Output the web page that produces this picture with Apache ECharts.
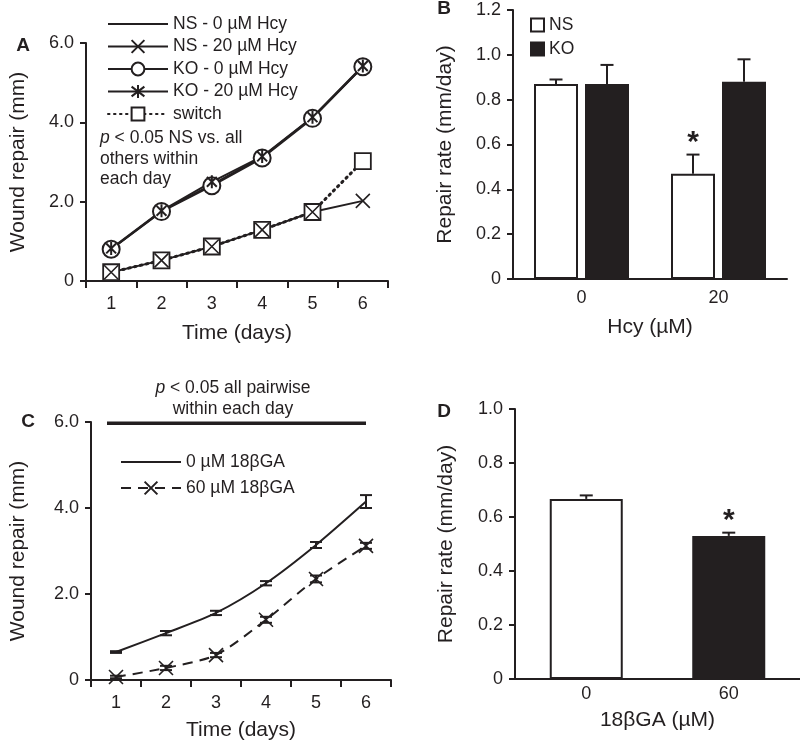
<!DOCTYPE html>
<html><head><meta charset="utf-8">
<script src="https://cdn.jsdelivr.net/npm/echarts@6/dist/echarts.min.js"></script>
<style>html,body{margin:0;padding:0;background:#fff}#c{width:800px;height:748px}</style>
</head><body><div id="c"></div>
<script>
// ---------- Panel A: wound repair vs time (Hcy) ----------
const days = ['1', '2', '3', '4', '5', '6'];
const nsHcy0  = [0.80, 1.76, 2.43, 3.12, 4.12, 5.40];
const nsHcy20 = [0.22, 0.52, 0.87, 1.29, 1.74, 2.02];
const koHcy0  = [0.80, 1.75, 2.40, 3.10, 4.10, 5.40];
const koHcy20 = [0.82, 1.77, 2.50, 3.14, 4.13, 5.42];
const switchHcy = [0.22, 0.52, 0.87, 1.29, 1.74, 3.02];
const yTicksA = [0, 2, 4, 6];

// ---------- Panel B: repair rate vs Hcy ----------
const hcyDoses = ['0', '20'];
const rateNS = [0.87, 0.47];
const rateNSErr = [0.02, 0.085];
const rateNSSig = ['', '*'];
const rateKO = [0.87, 0.88];
const rateKOErr = [0.085, 0.10];
const rateKOSig = ['', ''];
const yTicksB = [0, 0.2, 0.4, 0.6, 0.8, 1.0, 1.2];

// ---------- Panel C: wound repair vs time (18bGA) ----------
const ga0 = [0.65, 1.09, 1.56, 2.25, 3.14, 4.15];
const ga0Err = [0.02, 0.05, 0.05, 0.05, 0.07, 0.15];
const ga60 = [0.07, 0.28, 0.58, 1.40, 2.35, 3.12];
const ga60Err = [0.03, 0.05, 0.05, 0.07, 0.08, 0.07];
const pairwiseLevel = 5.97;
const pairwiseSpan = [0, 5];
const yTicksC = [0, 2, 4, 6];

// ---------- Panel D: repair rate vs 18bGA ----------
const gaDoses = ['0', '60'];
const gaRate = [0.667, 0.530];
const gaRateErr = [0.013, 0.012];
const gaRateSig = ['', '*'];
const yTicksD = [0, 0.2, 0.4, 0.6, 0.8, 1.0];

const INK = '#231f20';
const FONT = 'Liberation Sans, Arial, Helvetica, sans-serif';
const TICK = 18;
const TITLE = 21;
const LEG = 17.5;

const chart = echarts.init(document.getElementById('c'), null, {renderer: 'canvas'});

const fmt1 = v => (v === 0 ? '0' : v.toFixed(1));

function yAxis(gi, ticks, name, gap, fmt) {
  return {
    type: 'value', gridIndex: gi, min: ticks[0], max: ticks[ticks.length - 1],
    interval: ticks[1] - ticks[0],
    name: name, nameLocation: 'middle', nameGap: gap,
    nameTextStyle: {fontSize: TITLE, color: INK, fontFamily: FONT},
    axisLine: {show: true, lineStyle: {color: INK, width: 2}},
    axisTick: {show: true, length: 6, lineStyle: {color: INK, width: 2}},
    axisLabel: {fontSize: TICK, color: INK, fontFamily: FONT, margin: 12, formatter: fmt},
    splitLine: {show: false}
  };
}
function xAxis(gi, cats, name, gap, ticks, margin) {
  return {
    type: 'category', gridIndex: gi, data: cats, boundaryGap: true,
    name: name, nameLocation: 'middle', nameGap: gap,
    nameTextStyle: {fontSize: TITLE, color: INK, fontFamily: FONT},
    axisLine: {show: true, onZero: false, lineStyle: {color: INK, width: 2}},
    axisTick: {show: ticks, length: 7, alignWithLabel: false, lineStyle: {color: INK, width: 2}},
    axisLabel: {fontSize: TICK, color: INK, fontFamily: FONT, margin: margin},
    splitLine: {show: false}
  };
}

const X_PATH = 'path://M0,0L10,10M10,0L0,10';
const STAR_PATH = 'path://M1.2,1.2L8.8,8.8M8.8,1.2L1.2,8.8M5,0L5,10';
const NO_MARK = {color: 'transparent', borderColor: 'transparent', borderWidth: 0};

function lineSeries(name, data, opts) {
  return Object.assign({
    type: 'line', name: name, data: data, xAxisIndex: opts.ax, yAxisIndex: opts.ax,
    symbol: 'none', symbolSize: 14, symbolKeepAspect: true,
    lineStyle: {color: INK, width: 2},
    itemStyle: NO_MARK,
    emphasis: {disabled: true}, animation: false
  }, opts.extra || {});
}
const MARK = {color: INK, borderColor: INK, borderWidth: 1.6};

function barErrRender(offset, capHalf, sig) {
  return function (params, api) {
    const i = api.value(0), v = api.value(1), e = api.value(2);
    const base = api.coord([i, v]);
    const top = api.coord([i, v + e]);
    const x = base[0] + offset;
    const ch = [
      {type: 'line', shape: {x1: x, y1: base[1], x2: x, y2: top[1]}, style: {stroke: INK, lineWidth: 2}},
      {type: 'line', shape: {x1: x - capHalf, y1: top[1], x2: x + capHalf, y2: top[1]}, style: {stroke: INK, lineWidth: 2}}
    ];
    const s = sig[params.dataIndex];
    if (s) ch.push({type: 'text', x: x, y: top[1] - 12,
      style: {text: s, fill: INK, font: 'bold 30px ' + FONT, align: 'center', verticalAlign: 'middle'}});
    return {type: 'group', children: ch};
  };
}
function lineErrRender(capHalf) {
  return function (params, api) {
    const i = api.value(0), v = api.value(1), e = api.value(2);
    const lo = api.coord([i, v - e]);
    const hi = api.coord([i, v + e]);
    const x = lo[0];
    return {type: 'group', children: [
      {type: 'line', shape: {x1: x, y1: lo[1], x2: x, y2: hi[1]}, style: {stroke: INK, lineWidth: 2}},
      {type: 'line', shape: {x1: x - capHalf, y1: lo[1], x2: x + capHalf, y2: lo[1]}, style: {stroke: INK, lineWidth: 2}},
      {type: 'line', shape: {x1: x - capHalf, y1: hi[1], x2: x + capHalf, y2: hi[1]}, style: {stroke: INK, lineWidth: 2}}
    ]};
  };
}
const zip3 = (a, b) => a.map((v, i) => [i, v, b[i]]);

const BW_B = 44, GAP_B = 7;

const option = {
  backgroundColor: '#fff',
  animation: false,
  textStyle: {fontFamily: FONT, color: INK},
  grid: [
    {left: 86, top: 43, width: 302, height: 238, outerBoundsMode: 'none'},
    {left: 513, top: 10, width: 274, height: 269, outerBoundsMode: 'none'},
    {left: 91, top: 422, width: 300, height: 258, outerBoundsMode: 'none'},
    {left: 515, top: 409, width: 285, height: 270, outerBoundsMode: 'none'}
  ],
  xAxis: [
    xAxis(0, days, 'Time (days)', 42, true, 14),
    xAxis(1, hcyDoses, 'Hcy (\u00b5M)', 38, false, 10),
    xAxis(2, days, 'Time (days)', 40, true, 14),
    xAxis(3, gaDoses, '18\u03b2GA (\u00b5M)', 31, false, 6)
  ],
  yAxis: [
    yAxis(0, yTicksA, 'Wound repair (mm)', 57, fmt1),
    yAxis(1, yTicksB, 'Repair rate (mm/day)', 57, fmt1),
    yAxis(2, yTicksC, 'Wound repair (mm)', 62, fmt1),
    yAxis(3, yTicksD, 'Repair rate (mm/day)', 58, fmt1)
  ],
  legend: [
    {
      data: ['NS - 0 \u00b5M Hcy', 'NS - 20 \u00b5M Hcy', 'KO - 0 \u00b5M Hcy', 'KO - 20 \u00b5M Hcy', 'switch'],
      orient: 'vertical', left: 107, top: 15, padding: 0, itemWidth: 60, itemHeight: 16, itemGap: 4.5,
      textStyle: {fontSize: LEG, color: INK, fontFamily: FONT}, selectedMode: false
    },
    {
      data: ['NS', 'KO'], icon: 'rect',
      orient: 'vertical', left: 530, top: 16, padding: 0, itemWidth: 13, itemHeight: 13, itemGap: 6,
      textStyle: {fontSize: LEG, color: INK, fontFamily: FONT}, selectedMode: false
    },
    {
      data: ['0 \u00b5M 18\u03b2GA', '60 \u00b5M 18\u03b2GA'],
      orient: 'vertical', left: 120, top: 453, padding: 0, itemWidth: 60, itemHeight: 16, itemGap: 8,
      textStyle: {fontSize: LEG, color: INK, fontFamily: FONT}, selectedMode: false
    }
  ],
  graphic: [
    {type: 'text', x: 23, y: 46, style: {text: 'A', font: 'bold 19px ' + FONT, fill: INK, align: 'center', verticalAlign: 'middle'}},
    {type: 'text', x: 444, y: 9, style: {text: 'B', font: 'bold 19px ' + FONT, fill: INK, align: 'center', verticalAlign: 'middle'}},
    {type: 'text', x: 28, y: 422, style: {text: 'C', font: 'bold 19px ' + FONT, fill: INK, align: 'center', verticalAlign: 'middle'}},
    {type: 'text', x: 444, y: 412, style: {text: 'D', font: 'bold 19px ' + FONT, fill: INK, align: 'center', verticalAlign: 'middle'}},
    {type: 'text', x: 100, y: 128, style: {
      text: '{i|p} < 0.05 NS vs. all\nothers within\neach day',
      fontSize: LEG, fontFamily: FONT, fill: INK, lineHeight: 20.5,
      rich: {i: {fontStyle: 'italic', fontSize: LEG, fontFamily: FONT, fill: INK, lineHeight: 20.5}}
    }},
    {type: 'text', x: 233, y: 378, style: {
      text: '{i|p} < 0.05 all pairwise\nwithin each day', align: 'center',
      fontSize: LEG, fontFamily: FONT, fill: INK, lineHeight: 20.5,
      rich: {i: {fontStyle: 'italic', fontSize: LEG, fontFamily: FONT, fill: INK, lineHeight: 20.5}}
    }}
  ],
  series: [
    // Panel A
    lineSeries('NS - 0 \u00b5M Hcy', nsHcy0, {ax: 0}),
    lineSeries('KO - 0 \u00b5M Hcy', koHcy0, {ax: 0, extra: {symbol: 'emptyCircle', symbolSize: 17, itemStyle: MARK}}),
    lineSeries('KO - 20 \u00b5M Hcy', koHcy20, {ax: 0, extra: {symbol: STAR_PATH, symbolSize: 13,
      itemStyle: {color: INK, borderColor: INK, borderWidth: 2}}}),
    lineSeries('switch', switchHcy, {ax: 0, extra: {symbol: 'rect', symbolSize: 16,
      lineStyle: {color: INK, width: 3, type: [1.5, 4.5], cap: 'round'},
      itemStyle: {color: '#fff', borderColor: INK, borderWidth: 1.8}}}),
    lineSeries('NS - 20 \u00b5M Hcy', nsHcy20, {ax: 0, extra: {symbol: X_PATH, symbolSize: 14, itemStyle: MARK}}),
    // Panel B
    {type: 'bar', name: 'NS', xAxisIndex: 1, yAxisIndex: 1, data: rateNS, barWidth: BW_B, barGap: (GAP_B / BW_B * 100) + '%',
      itemStyle: {color: '#fff', borderColor: INK, borderWidth: 2}, emphasis: {disabled: true}},
    {type: 'bar', name: 'KO', xAxisIndex: 1, yAxisIndex: 1, data: rateKO, barWidth: BW_B,
      itemStyle: {color: INK, borderColor: INK, borderWidth: 2}, emphasis: {disabled: true}},
    {type: 'custom', name: 'NS err', xAxisIndex: 1, yAxisIndex: 1, data: zip3(rateNS, rateNSErr),
      encode: {x: 0, y: 1}, renderItem: barErrRender(-(BW_B + GAP_B) / 2, 6.5, rateNSSig), z: 5},
    {type: 'custom', name: 'KO err', xAxisIndex: 1, yAxisIndex: 1, data: zip3(rateKO, rateKOErr),
      encode: {x: 0, y: 1}, renderItem: barErrRender((BW_B + GAP_B) / 2, 6.5, rateKOSig), z: 5},
    // Panel C
    lineSeries('0 \u00b5M 18\u03b2GA', ga0, {ax: 2, extra: {smooth: 0.25}}),
    lineSeries('60 \u00b5M 18\u03b2GA', ga60, {ax: 2, extra: {smooth: 0.25, symbol: X_PATH, symbolSize: 14, itemStyle: MARK,
      lineStyle: {color: INK, width: 2, type: [10, 7]}}}),
    {type: 'custom', name: 'ga0 err', xAxisIndex: 2, yAxisIndex: 2, data: zip3(ga0, ga0Err),
      encode: {x: 0, y: 1}, renderItem: lineErrRender(6), z: 5},
    {type: 'custom', name: 'ga60 err', xAxisIndex: 2, yAxisIndex: 2, data: zip3(ga60, ga60Err),
      encode: {x: 0, y: 1}, renderItem: lineErrRender(6), z: 5},
    {type: 'custom', name: 'pairwise', xAxisIndex: 2, yAxisIndex: 2,
      data: [[pairwiseSpan[0], pairwiseLevel, pairwiseSpan[1]]], encode: {x: 0, y: 1}, clip: false,
      renderItem: function (params, api) {
        const a = api.coord([api.value(0), api.value(1)]);
        const b = api.coord([api.value(2), api.value(1)]);
        const band = api.size([1, 0])[0];
        return {type: 'line', shape: {x1: a[0] - band * 0.18, y1: a[1], x2: b[0], y2: b[1]},
          style: {stroke: INK, lineWidth: 3.5}};
      }},
    // Panel D
    {type: 'bar', name: '18bGA rate', xAxisIndex: 3, yAxisIndex: 3, barWidth: 73,
      data: gaRate.map((v, i) => ({value: v, itemStyle: {color: i === 0 ? '#fff' : INK}})),
      itemStyle: {borderColor: INK, borderWidth: 2}, emphasis: {disabled: true}},
    {type: 'custom', name: '18bGA err', xAxisIndex: 3, yAxisIndex: 3, data: zip3(gaRate, gaRateErr),
      encode: {x: 0, y: 1}, renderItem: barErrRender(0, 6.5, gaRateSig), z: 5}
  ]
};
chart.setOption(option);
</script>
</body></html>
